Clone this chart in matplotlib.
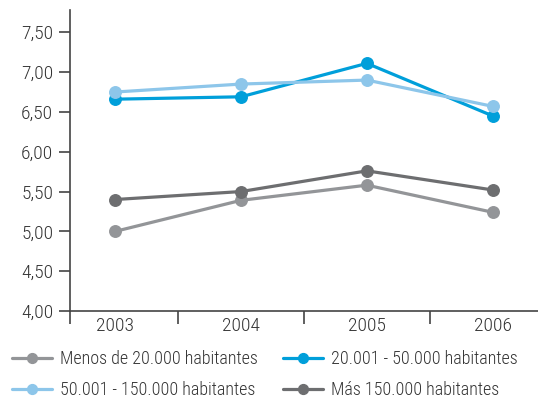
import matplotlib
matplotlib.use("Agg")
import matplotlib.pyplot as plt
from matplotlib import font_manager

years = ["2003", "2004", "2005", "2006"]
menos_20000 = [5.00, 5.39, 5.58, 5.24]
de_20001_50000 = [6.66, 6.69, 7.11, 6.45]
de_50001_150000 = [6.75, 6.85, 6.90, 6.57]
mas_150000 = [5.40, 5.50, 5.76, 5.52]
labels = ["Menos de 20.000 habitantes", "20.001 - 50.000 habitantes",
          "50.001 - 150.000 habitantes", "Más 150.000 habitantes"]
colors = ["#939598", "#009FDA", "#8DC6EA", "#6D6E70"]
yticks = [4.0, 4.5, 5.0, 5.5, 6.0, 6.5, 7.0, 7.5]

names = {f.name for f in font_manager.fontManager.ttflist}
fam = "DejaVu Sans"
for cand in ["Roboto Condensed", "Liberation Sans Narrow", "Open Sans Condensed", "Roboto"]:
    if cand in names:
        fam = cand
        break
plt.rcParams['font.family'] = [fam, 'DejaVu Sans']
plt.rcParams['font.weight'] = 'light'
FS_TICK = 14
FS_LEG = 13

fig = plt.figure(figsize=(5.38, 4.0), dpi=100)
ax = fig.add_axes([0.130, 0.2225, 0.87, 0.7525])

x = list(range(len(years)))
series = [menos_20000, de_20001_50000, de_50001_150000, mas_150000]
handles = []
for s, c, l in zip(series, colors, labels):
    h, = ax.plot(x, s, color=c, lw=2.3, marker='o', ms=8.3, label=l,
                 solid_capstyle='round')
    handles.append(h)

xl = (-0.36, 3.36)
ax.set_ylim(4.0, 7.78)
ax.set_xlim(*xl)
ax.set_yticks(yticks)
ax.set_yticklabels([f"{v:.2f}".replace(".", ",") for v in yticks])
ax.set_xticks(x)
ax.set_xticklabels(years)
ax.set_xticks([xl[0], 0.5, 1.5, 2.5], minor=True)
ax.tick_params(axis='x', which='major', length=0, pad=4, labelsize=FS_TICK, colors='#333333')
ax.tick_params(axis='x', which='minor', length=9, width=1.2, color='#444444', direction='out')
ax.tick_params(axis='y', length=8, width=1.2, color='#444444', labelsize=FS_TICK, colors='#333333', pad=4)
for sp in ['top', 'right']:
    ax.spines[sp].set_visible(False)
for sp in ['left', 'bottom']:
    ax.spines[sp].set_color('#444444')
    ax.spines[sp].set_linewidth(1.2)

def leg_at(idx, xpos):
    hs = [handles[i] for i in idx]
    ls = [labels[i] for i in idx]
    lg = fig.legend(hs, ls, loc='center left', bbox_to_anchor=(xpos, 0.064),
                    frameon=False, fontsize=FS_LEG, handlelength=2.2,
                    handletextpad=0.45, labelspacing=0.72, borderaxespad=0,
                    borderpad=0, markerscale=0.85)
    for t in lg.get_texts():
        t.set_color('#333333')
    return lg

leg_at([0, 2], 12 / 538)
leg_at([1, 3], 283 / 538)

fig.savefig("out.png", dpi=100)
